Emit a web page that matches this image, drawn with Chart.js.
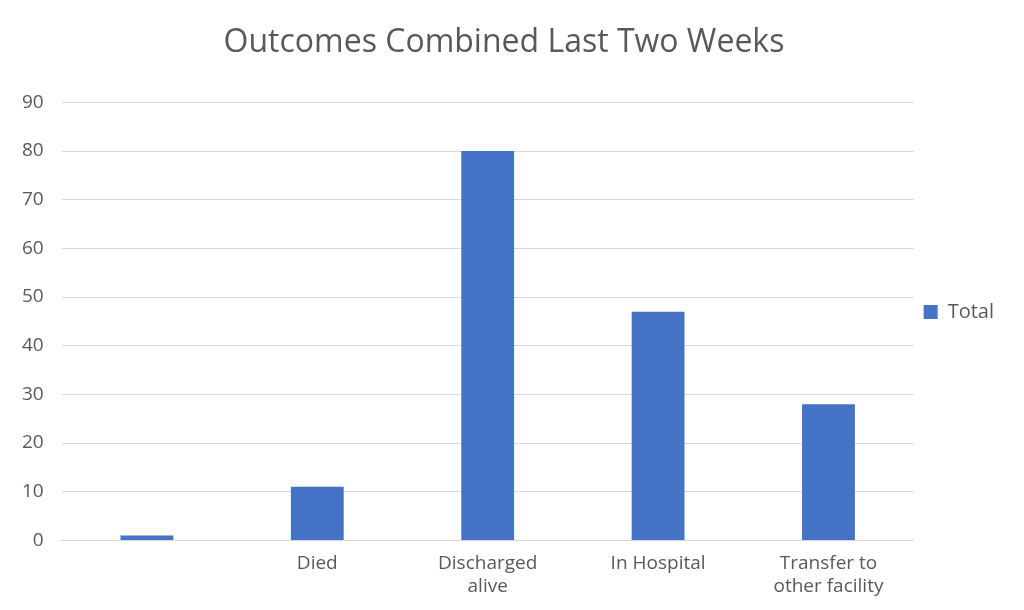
<!DOCTYPE html>
<html>
<head>
<script src="https://cdn.jsdelivr.net/npm/chart.js@4"></script>
<style>
  body { margin: 0; background: #fff; }
  #wrap { width: 1024px; height: 610px; }
</style>
</head>
<body>
<div id="wrap"><canvas id="c"></canvas></div>
<script>
const categories = ['', 'Died', ['Discharged', 'alive'], 'In Hospital', ['Transfer to', 'other facility']];
const totals = [1, 11, 80, 47, 28];

Chart.defaults.font.family = '"Open Sans", "Liberation Sans", sans-serif';
Chart.defaults.color = '#595959';

new Chart(document.getElementById('c'), {
  type: 'bar',
  data: {
    labels: categories,
    datasets: [{
      label: 'Total',
      data: totals,
      backgroundColor: '#4472C4',
      barPercentage: 0.31,
      categoryPercentage: 1
    }]
  },
  options: {
    responsive: true,
    maintainAspectRatio: false,
    animation: false,
    layout: { padding: { left: 4, right: 20, top: 14, bottom: 0 } },
    plugins: {
      title: {
        display: true,
        text: 'Outcomes Combined Last Two Weeks',
        font: { size: 32, weight: 'normal' },
        color: '#595959',
        padding: { top: 10, bottom: 40 }
      },
      legend: {
        position: 'right',
        labels: { boxWidth: 14, boxHeight: 14, font: { size: 20 }, padding: 10 }
      },
      tooltip: { enabled: false }
    },
    scales: {
      x: {
        grid: { display: false, drawTicks: false },
        border: { color: '#d9d9d9' },
        ticks: { font: { size: 19 }, maxRotation: 0, padding: 12 }
      },
      y: {
        min: 0,
        max: 90,
        ticks: { stepSize: 10, font: { size: 19 }, padding: 18 },
        grid: { color: '#d9d9d9', drawTicks: false },
        border: { display: false }
      }
    }
  }
});
</script>
</body>
</html>
